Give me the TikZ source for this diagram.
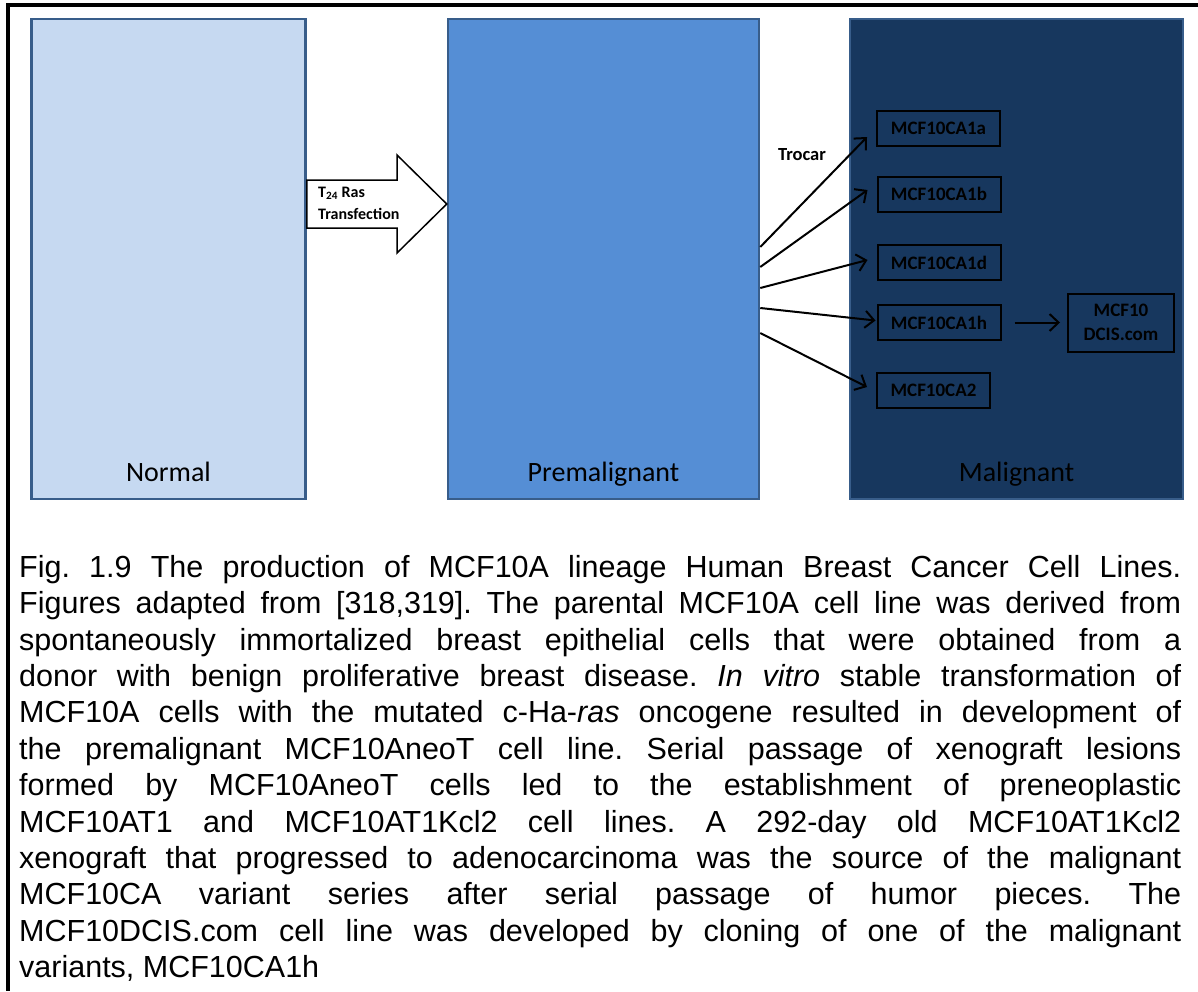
\documentclass[tikz,border=0pt]{standalone}
\usepackage{fontspec}
\setmainfont{Liberation Sans}
\newfontfamily\calibri{Carlito}
\usetikzlibrary{arrows.meta}
\definecolor{normalblue}{HTML}{C6D9F1}
\definecolor{preblue}{HTML}{558ED5}
\definecolor{malblue}{HTML}{17375E}
\definecolor{edgeblue}{HTML}{385D8A}

\begin{document}
\begin{tikzpicture}[x=1pt,y=-1pt,
    stage/.style={draw=edgeblue,line width=2.5pt,minimum width=#1,minimum height=480pt,inner sep=0pt},
    stagelabel/.style={anchor=base,font={\calibri\fontsize{28}{32}\selectfont},inner sep=0pt},
    cellbox/.style={draw=black,line width=2pt,minimum width=123pt,minimum height=35pt,inner sep=0pt,
        align=center,font={\calibri\bfseries\fontsize{19}{24}\selectfont}},
    link/.style={-{Straight Barb[length=9pt,width=17pt]},line width=2pt}]
        \useasboundingbox (0,0) rectangle (1198,991);
        % frame, open at right and bottom
        \draw[line width=4pt] (1198,5.3) -- (8,5.3) -- (8,991);

        % the three stages
        \node[stage=274pt,fill=normalblue] (normal) at (168.5,259) {};
        \node[stage=311pt,fill=preblue] (pre) at (603.5,259) {};
        \node[stage=333pt,fill=malblue] (mal) at (1016.5,259) {};
        \node[stagelabel] (normallbl) at ([yshift=19pt]normal.south) {Normal};
        \node[stagelabel] (prelbl) at ([yshift=19pt]pre.south) {Premalignant};
        \node[stagelabel] (mallbl) at ([yshift=19pt]mal.south) {Malignant};

        % transfection arrow
        \draw[fill=white,line width=1.5pt,line join=miter] (normal.east |- 0,180) -- (397,180) -- (397,155)
            -- (pre.west |- 0,204) -- (397,253) -- (397,228) -- (normal.east |- 0,228) -- cycle;
        \node[anchor=west,align=left,inner sep=0pt,font={\calibri\bfseries\fontsize{16}{22}\selectfont}] (ras)
            at (318,203) {T\textsubscript{24} Ras\\Transfection};

        % malignant variants
        \node[cellbox] (ca1a) at (938.5,128.5) {MCF10CA1a};
        \node[cellbox] (ca1b) at (939,194) {MCF10CA1b};
        \node[cellbox] (ca1d) at (939,262.5) {MCF10CA1d};
        \node[cellbox] (ca1h) at (939,322.5) {MCF10CA1h};
        \node[cellbox,minimum width=113pt] (ca2) at (933.5,390.5) {MCF10CA2};
        \node[cellbox,minimum width=106pt,minimum height=58pt] (dcis) at (1121,322.5) {MCF10\\DCIS.com};
        \node[font={\calibri\bfseries\fontsize{18.5}{22}\selectfont},inner sep=0pt] (trocar) at (802,155) {Trocar};

        \draw[link] ([yshift=12pt]pre.east) -- ([xshift=-9pt,yshift=-8.5pt]ca1a.west);
        \draw[link] ([yshift=-8pt]pre.east) -- ([xshift=-9pt,yshift=4pt]ca1b.west);
        \draw[link] ([yshift=-29pt]pre.east) -- ([xshift=-9pt,yshift=2.5pt]ca1d.west);
        \draw[link] ([yshift=-49pt]pre.east) -- ([xshift=-1pt,yshift=2pt]ca1h.west);
        \draw[link] ([yshift=-74pt]pre.east) -- ([xshift=-9pt,yshift=3.5pt]ca2.west);
        \draw[link] ([xshift=13pt]ca1h.east) -- ([xshift=-7pt]dcis.west);

        % caption
        \node[anchor=north west,inner sep=0pt,text width=1162pt,align=justify,
            font={\fontsize{30.5}{36.4}\selectfont\frenchspacing\tolerance=10000\hbadness=10000
            \hyphenpenalty=10000\exhyphenpenalty=10000}] (caption) at (19,555)
            {Fig. 1.9 The production of MCF10A lineage Human Breast Cancer Cell Lines.\linebreak
            Figures adapted from [318,319]. The parental MCF10A cell line was derived from\linebreak
            spontaneously immortalized breast epithelial cells that were obtained from a\linebreak
            donor with benign proliferative breast disease. \textit{In vitro} stable transformation of\linebreak
            MCF10A cells with the mutated c-Ha-\textit{ras} oncogene resulted in development of\linebreak
            the premalignant MCF10AneoT cell line. Serial passage of xenograft lesions\linebreak
            formed by MCF10AneoT cells led to the establishment of preneoplastic\linebreak
            MCF10AT1 and MCF10AT1Kcl2 cell lines. A 292-day old MCF10AT1Kcl2\linebreak
            xenograft that progressed to adenocarcinoma was the source of the malignant\linebreak
            MCF10CA variant series after serial passage of humor pieces. The\linebreak
            MCF10DCIS.com cell line was developed by cloning of one of the malignant\linebreak
            variants, MCF10CA1h};
\end{tikzpicture}
\end{document}
